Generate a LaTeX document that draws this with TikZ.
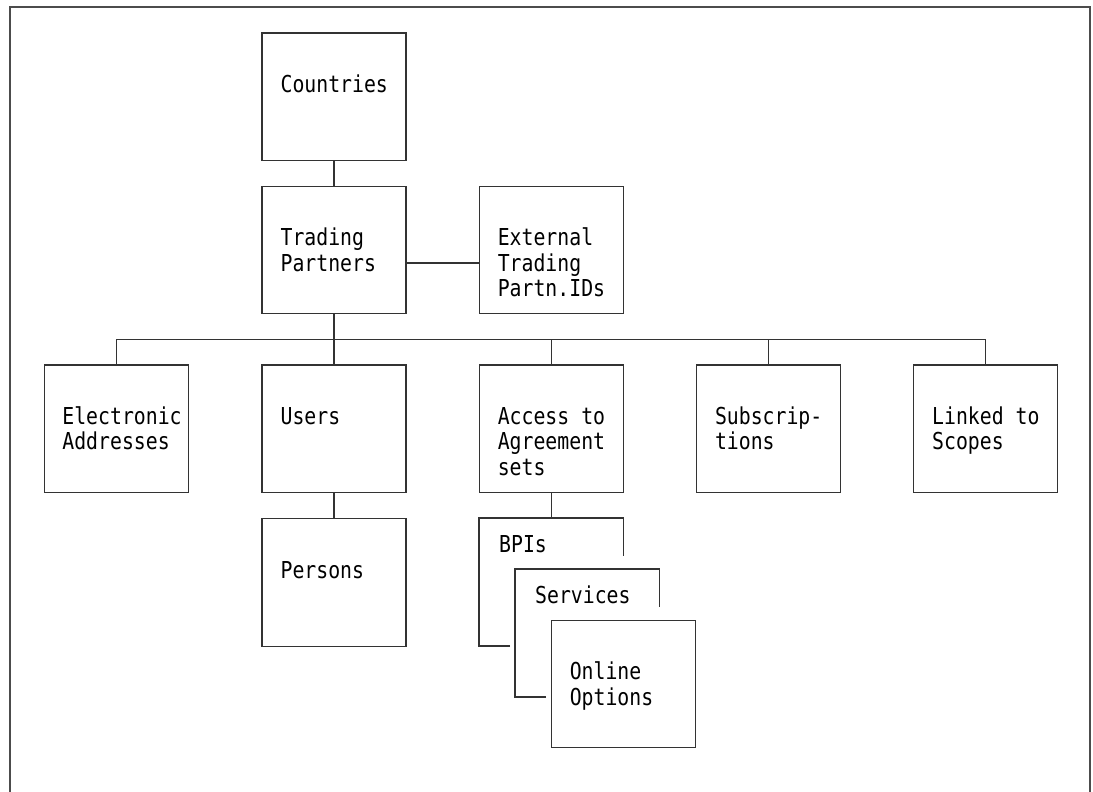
\documentclass[tikz,border=0pt]{standalone}
\usepackage{fontspec}
\newfontfamily\boxfont[FakeStretch=0.85]{DejaVu Sans Mono}
\usepackage{tikz}
\usetikzlibrary{positioning}
\tikzstyle{entity} = [rectangle, minimum width=144pt, minimum height=127.5pt, inner sep=0pt, draw=black!80, line width=1.2pt]
\tikzstyle{hidden} = [rectangle, minimum width=144pt, minimum height=127.5pt, inner sep=0pt]
\tikzstyle{txt} = [anchor=base west, align=left, inner sep=0pt, font=\boxfont\fontsize{23.3}{25.5}\selectfont]
\tikzstyle{link} = [line width=1.2pt, draw=black!80]
\tikzstyle{frame} = [line width=1.8pt, draw=black!70]

\begin{document}
\begin{tikzpicture}[x=1pt, y=-1pt, node distance=25pt and 72pt]
\useasboundingbox (0,0) rectangle (1093,792);
\draw [frame] (10,792) -- (10,7) -- (1090,7) -- (1090,792);
% boxes
\node (cty) [entity] at (334,96.75) {};
\node (tp) [entity, below=24.5pt of cty] {};
\node (ext) [entity, right=of tp] {};
\node (users) [entity, below=50pt of tp] {};
\node (access) [entity, right=of users] {};
\node (elec) [entity, left=of users] {};
\node (subs) [entity, right=of access] {};
\node (lnk) [entity, right=of subs] {};
\node (pers) [entity, below=of users] {};
\node (bpi) [hidden, below=of access] {};
\node (svc) [hidden] at ([shift={(36,51)}]bpi) {};
\node (onl) [entity] at ([shift={(36,51)}]svc) {};
% stacked boxes behind
\draw [link] ([xshift=31pt]bpi.south west) -- (bpi.south west) -- (bpi.north west) -- (bpi.north east) -- ([yshift=-38pt]bpi.north east);
\draw [link] ([xshift=31pt]svc.south west) -- (svc.south west) -- (svc.north west) -- (svc.north east) -- ([yshift=-38pt]svc.north east);
% connectors
\draw [link] (cty) -- (tp);
\draw [link] ([yshift=-13pt]tp.east) -- ([yshift=-13pt]ext.west);
\coordinate (bus) at ([yshift=-25pt]tp.south);
\draw [link] (tp) -- (bus);
\draw [link] (elec.north) |- (bus) -| (lnk.north);
\foreach \n in {users, access, subs}
  \draw [link] (\n.north) -- (\n.north |- bus);
\draw [link] (users) -- (pers);
\draw [link] (access) -- (bpi);
% texts (base = last line)
\node (ctyT) [txt] at ([shift={(19,60)}]cty.north west) {Countries};
\node (tpT) [txt] at ([shift={(19,85.5)}]tp.north west) {Trading\\Partners};
\node (extT) [txt] at ([shift={(19,111)}]ext.north west) {External\\Trading\\Partn.IDs};
\node (elecT) [txt] at ([shift={(18,85.5)}]elec.north west) {Electronic\\Addresses};
\node (usersT) [txt] at ([shift={(19,60)}]users.north west) {Users};
\node (accessT) [txt] at ([shift={(19,111)}]access.north west) {Access to\\Agreement\\sets};
\node (subsT) [txt] at ([shift={(19,85.5)}]subs.north west) {Subscrip-\\tions};
\node (lnkT) [txt] at ([shift={(19,85.5)}]lnk.north west) {Linked to\\Scopes};
\node (persT) [txt] at ([shift={(19,60)}]pers.north west) {Persons};
\node (bpiT) [txt] at ([shift={(20,34)}]bpi.north west) {BPIs};
\node (svcT) [txt] at ([shift={(20,34)}]svc.north west) {Services};
\node (onlT) [txt] at ([shift={(19,85.5)}]onl.north west) {Online\\Options};
\end{tikzpicture}
\end{document}
